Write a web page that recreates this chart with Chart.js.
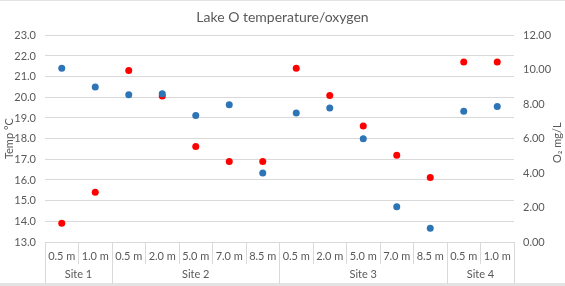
<!DOCTYPE html>
<html>
<head>
<meta charset="utf-8">
<script src="https://cdn.jsdelivr.net/npm/chart.js@4.4.1/dist/chart.umd.min.js"></script>
<style>
  html, body { margin: 0; padding: 0; background: #fff; }
  #wrap { width: 565px; height: 286px; }
</style>
</head>
<body>
<div id="wrap"><canvas id="graph" width="565" height="286"></canvas></div>
<script>
const textGrey = '#595959'
const gridGrey = '#d9d9d9'
const blue =     '#2e75b6'
const red =      '#ff0000'

// depth categories, grouped by site
const depths = ['0.5 m', '1.0 m', '0.5 m', '2.0 m', '5.0 m', '7.0 m', '8.5 m',
                '0.5 m', '2.0 m', '5.0 m', '7.0 m', '8.5 m', '0.5 m', '1.0 m']
const sites = ['Site 1', 'Site 2', 'Site 3', 'Site 4']
const siteSizes = [2, 5, 5, 2]

// temperature (left axis, °C)
const temps = [21.4, 20.5, 20.12, 20.17, 19.12, 19.64, 16.34,
               19.24, 19.48, 18.0, 14.7, 13.66, 19.32, 19.56]
// dissolved oxygen (right axis, mg/L)
const oxygen = [1.09, 2.89, 9.96, 8.47, 5.55, 4.67, 4.67,
                10.08, 8.51, 6.74, 5.04, 3.74, 10.45, 10.45]

// group boundaries and centres for the site row
const siteBounds = [-0.5]
const siteCentres = []
siteSizes.forEach(n => {
    const start = siteBounds[siteBounds.length - 1]
    siteCentres.push(start + n / 2)
    siteBounds.push(start + n)
})

const fontFamily = "Lato, 'Open Sans', 'Liberation Sans', sans-serif"
Chart.defaults.font.family = fontFamily
Chart.defaults.font.size = 11
Chart.defaults.color = textGrey

// chart frame + right axis title (reads bottom to top)
const extras = {
    id: 'extras',
    beforeDraw(chart) {
        const ctx = chart.ctx
        ctx.save()
        ctx.fillStyle = '#ffffff'
        ctx.fillRect(0, 0, chart.width, chart.height)
        ctx.fillStyle = '#e3e3e3'
        ctx.fillRect(0, 0, chart.width, 1)
        ctx.fillRect(0, 283, chart.width, 3)
        ctx.restore()
    },
    afterDraw(chart) {
        const ctx = chart.ctx
        const a = chart.chartArea
        ctx.save()
        ctx.translate(557, (a.top + a.bottom) / 2 + 4)
        ctx.rotate(-Math.PI / 2)
        ctx.fillStyle = textGrey
        ctx.font = '11px ' + fontFamily
        ctx.textAlign = 'center'
        ctx.textBaseline = 'middle'
        ctx.fillText('O₂ mg/L', 0, 0)
        ctx.restore()
    }
}

new Chart(document.getElementById('graph'), {
    type: 'line',
    data: {
        labels: depths,
        datasets: [
            {
                label: 'Temp',
                data: temps,
                yAxisID: 'y',
                showLine: false,
                pointRadius: 3.5,
                pointBorderWidth: 0,
                backgroundColor: blue,
                borderColor: blue,
            },
            {
                label: 'O2',
                data: oxygen,
                yAxisID: 'y1',
                showLine: false,
                pointRadius: 3.5,
                pointBorderWidth: 0,
                backgroundColor: red,
                borderColor: red,
            }
        ]
    },
    options: {
        responsive: false,
        animation: false,
        layout: { padding: { left: 0, right: 0, top: 0, bottom: 2 } },
        plugins: {
            legend: { display: false },
            tooltip: { enabled: false },
            title: {
                display: true,
                text: 'Lake O temperature/oxygen',
                color: textGrey,
                font: { size: 14, weight: 'normal' },
                padding: { top: 9, bottom: 9.5 }
            }
        },
        scales: {
            x: {
                type: 'category',
                position: 'bottom',
                offset: true,
                grid: {
                    offset: true,
                    drawOnChartArea: false,
                    drawTicks: true,
                    tickLength: 22,
                    color: gridGrey
                },
                border: { display: true, color: gridGrey },
                ticks: { padding: -14.5, maxRotation: 0, autoSkip: false, color: textGrey },
                afterFit(s) { s.height = 22 }
            },
            x2: {
                type: 'linear',
                position: 'bottom',
                min: -0.5,
                max: 13.5,
                afterBuildTicks(s) {
                    s.ticks = siteBounds.concat(siteCentres).sort((a, b) => a - b).map(v => ({ value: v }))
                },
                grid: {
                    drawOnChartArea: false,
                    drawTicks: true,
                    tickLength: 20,
                    color: ctx => siteBounds.includes(ctx.tick && ctx.tick.value) ? gridGrey : 'rgba(0,0,0,0)'
                },
                border: { display: false },
                ticks: {
                    padding: -16,
                    maxRotation: 0,
                    autoSkip: false,
                    color: textGrey,
                    callback: v => {
                        const i = siteCentres.indexOf(v)
                        return i >= 0 ? sites[i] : ''
                    }
                },
                afterFit(s) { s.height = 20 }
            },
            y: {
                position: 'left',
                min: 13,
                max: 23,
                ticks: { stepSize: 1, padding: 9, callback: v => v.toFixed(1) },
                grid: { color: gridGrey, drawTicks: false },
                border: { display: false },
                title: {
                    display: true,
                    text: 'Temp °C',
                    color: textGrey,
                    font: { size: 11 },
                    padding: { top: 3, bottom: 0 }
                },
                afterFit(s) { s.width = 45 }
            },
            y1: {
                position: 'right',
                min: 0,
                max: 12,
                ticks: { stepSize: 2, padding: 9, callback: v => v.toFixed(2) },
                grid: { drawOnChartArea: false, drawTicks: false },
                border: { display: false },
                afterFit(s) { s.width = 51 }
            }
        }
    },
    plugins: [extras]
})
</script>
</body>
</html>
